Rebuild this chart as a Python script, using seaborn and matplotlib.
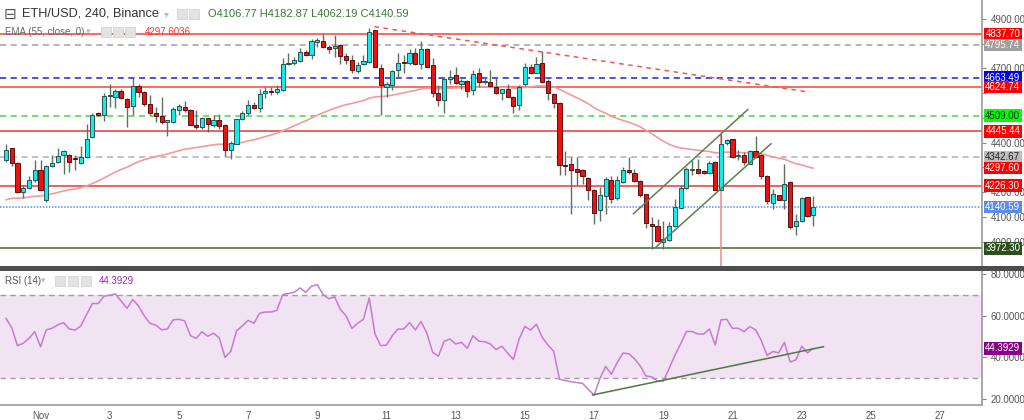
import numpy as np
import pandas as pd
import matplotlib
matplotlib.use("Agg")
import matplotlib.pyplot as plt
import matplotlib.transforms as mtransforms
from matplotlib.patches import Rectangle
import seaborn as sns

# ---------------- data (4h candles, Oct 31 00:00 -> Nov 23 08:00) ----------------
opens = [4329, 4380, 4318, 4200, 4217, 4248, 4291, 4167, 4307, 4322,
         4352, 4352, 4339, 4319, 4342, 4421, 4518, 4511, 4589, 4585,
         4610, 4576, 4548, 4629, 4606, 4558, 4521, 4507, 4484, 4484,
         4534, 4545, 4534, 4471, 4464, 4498, 4473, 4493, 4473, 4369,
         4396, 4495, 4518, 4552, 4542, 4599, 4608, 4603, 4612, 4720,
         4723, 4731, 4768, 4754, 4808, 4811, 4785, 4781, 4795, 4751,
         4734, 4689, 4718, 4727, 4855, 4700, 4626, 4633, 4693, 4727,
         4723, 4764, 4720, 4777, 4714, 4599, 4572, 4656, 4673, 4639,
         4649, 4612, 4680, 4645, 4645, 4626, 4601, 4615, 4585, 4551,
         4637, 4707, 4683, 4723, 4649, 4596, 4562, 4308, 4312, 4292,
         4288, 4258, 4210, 4126, 4183, 4250, 4176, 4241, 4291, 4278,
         4245, 4191, 4069, 4061, 3997, 4007, 4061, 4137, 4218, 4291,
         4295, 4284, 4277, 4322, 4209, 4399, 4413, 4345, 4351, 4315,
         4365, 4349, 4264, 4155, 4187, 4169, 4241, 4061, 4085, 4180,
         4106.77]
closes = [4369, 4319, 4200, 4217, 4248, 4291, 4207, 4304, 4318, 4346,
          4365, 4321, 4334, 4342, 4414, 4511, 4511, 4588, 4592, 4608,
          4579, 4545, 4629, 4604, 4556, 4518, 4508, 4484, 4491, 4538,
          4548, 4531, 4473, 4464, 4498, 4477, 4493, 4469, 4372, 4399,
          4495, 4518, 4552, 4542, 4596, 4608, 4604, 4615, 4720, 4724,
          4734, 4768, 4754, 4811, 4815, 4788, 4777, 4791, 4751, 4734,
          4693, 4716, 4731, 4849, 4707, 4635, 4639, 4689, 4723, 4723,
          4761, 4720, 4777, 4707, 4601, 4572, 4656, 4666, 4642, 4649,
          4610, 4677, 4646, 4649, 4629, 4599, 4615, 4585, 4547, 4626,
          4707, 4683, 4720, 4646, 4601, 4561, 4311, 4304, 4291, 4280,
          4265, 4210, 4115, 4187, 4254, 4173, 4247, 4291, 4281, 4245,
          4187, 4074, 4061, 4001, 4011, 4061, 4139, 4218, 4295, 4295,
          4278, 4278, 4318, 4209, 4396, 4409, 4342, 4351, 4322, 4366,
          4342, 4264, 4164, 4191, 4169, 4234, 4058, 4082, 4177, 4105,
          4140.59]
highs = [4396, 4380, 4322, 4227, 4264, 4329, 4329, 4308, 4349, 4380,
         4372, 4356, 4349, 4388, 4477, 4521, 4525, 4599, 4639, 4619,
         4615, 4579, 4666, 4639, 4610, 4592, 4545, 4585, 4493, 4545,
         4558, 4569, 4538, 4534, 4504, 4498, 4511, 4514, 4477, 4407,
         4497, 4529, 4572, 4565, 4616, 4626, 4626, 4633, 4741, 4764,
         4745, 4781, 4774, 4818, 4822, 4838, 4795, 4835, 4799, 4761,
         4754, 4727, 4754, 4862, 4855, 4720, 4646, 4693, 4761, 4754,
         4777, 4781, 4812, 4781, 4741, 4633, 4666, 4693, 4707, 4656,
         4653, 4693, 4700, 4664, 4693, 4660, 4619, 4637, 4588, 4633,
         4723, 4720, 4745, 4772, 4656, 4599, 4565, 4365, 4342, 4342,
         4295, 4261, 4214, 4221, 4261, 4264, 4264, 4301, 4342, 4295,
         4247, 4193, 4099, 4092, 4085, 4078, 4173, 4227, 4301, 4328,
         4335, 4288, 4326, 4326, 4436, 4416, 4416, 4369, 4362, 4369,
         4426, 4355, 4268, 4214, 4187, 4312, 4243, 4112, 4182, 4182,
         4182.87]
lows = [4322, 4304, 4196, 4176, 4214, 4241, 4204, 4160, 4302, 4318,
        4272, 4281, 4291, 4315, 4339, 4419, 4507, 4488, 4545, 4542,
        4575, 4464, 4511, 4585, 4550, 4511, 4484, 4477, 4426, 4480,
        4511, 4525, 4471, 4457, 4457, 4444, 4464, 4457, 4345, 4333,
        4393, 4491, 4511, 4538, 4524, 4579, 4592, 4596, 4610, 4714,
        4714, 4727, 4750, 4737, 4788, 4781, 4761, 4747, 4720, 4720,
        4683, 4683, 4714, 4723, 4704, 4511, 4583, 4612, 4660, 4680,
        4714, 4714, 4696, 4704, 4583, 4549, 4518, 4637, 4637, 4615,
        4585, 4592, 4626, 4637, 4626, 4596, 4572, 4583, 4518, 4531,
        4629, 4677, 4680, 4642, 4572, 4542, 4268, 4268, 4112, 4227,
        4234, 4166, 4072, 4085, 4112, 4155, 4166, 4236, 4274, 4241,
        4182, 4055, 3970, 3997, 3970, 4004, 4058, 4132, 4214, 4268,
        4274, 4272, 4274, 4207, 4207, 4389, 4339, 4331, 4308, 4312,
        4338, 4254, 4153, 4132, 4169, 4132, 4051, 4028, 4078, 4099,
        4062.19]
rsi = [58.9, 54.4, 45.7, 46.8, 49.2, 52.4, 45.2, 53.3, 54.1, 55.7,
       56.8, 53.7, 53.2, 55.2, 60.8, 66.0, 66.0, 69.5, 70.0, 70.6,
       67.1, 63.7, 67.9, 64.8, 60.0, 56.4, 55.6, 53.3, 53.7, 58.1,
       58.4, 57.6, 50.5, 49.2, 52.4, 50.2, 51.7, 49.4, 40.0, 43.0,
       52.9, 55.2, 57.9, 56.5, 61.3, 61.9, 61.9, 62.7, 70.3, 70.8,
       71.4, 73.5, 71.4, 74.3, 75.1, 70.3, 68.3, 69.2, 63.2, 60.0,
       54.0, 56.5, 58.4, 68.7, 51.3, 45.7, 46.0, 50.5, 53.7, 53.7,
       56.8, 53.3, 57.3, 51.7, 42.5, 40.6, 47.8, 48.9, 46.5, 47.3,
       44.4, 50.5, 47.8, 47.6, 46.5, 43.8, 45.4, 42.2, 39.0, 48.9,
       54.9, 53.2, 56.0, 49.7, 46.0, 42.9, 29.5, 28.9, 28.3, 27.9,
       27.5, 24.6, 21.9, 29.8, 35.7, 31.9, 37.5, 42.1, 41.8, 39.4,
       35.9, 31.1, 30.6, 28.6, 28.6, 34.6, 41.0, 46.5, 52.5, 52.5,
       51.3, 51.3, 53.7, 46.0, 58.1, 58.4, 54.0, 54.1, 52.4, 54.9,
       53.3, 48.1, 41.0, 42.9, 42.2, 47.3, 37.8, 38.9, 45.4, 42.2,
       44.39]
ema_seed = 4169.0
ema_len = 55

date_ticks = list(range(0, 27, 2))
date_labels = ["Nov", "3", "5", "7", "9", "11", "13", "15", "17", "19", "21", "23", "25", "27"]

price_ticks = [4000, 4100, 4200, 4300, 4400, 4500, 4600, 4700, 4800, 4900]
price_tick_labels = ["4000.00", "4100.00", "4200.00", "", "4400.00", "", "", "4700.00", "", "4900.00"]
rsi_ticks = [20, 40, 60, 80]
rsi_tick_labels = ["20.0000", "40.0000", "60.0000", "80.0000"]

# horizontal drawings: price, line color, line style, label bg, label fg
hlines = [
    (4837.70, "#f44336", "-", "#ff0000", "white"),
    (4795.74, "#a0a0a0", (0, (4, 3)), "#9e9e9e", "white"),
    (4663.49, "#1f1fd6", (0, (4, 3)), "#0000ff", "white"),
    (4624.74, "#f44336", "-", "#ff0000", "white"),
    (4509.00, "#45d845", (0, (4, 3)), "#00ff00", "#1a1a1a"),
    (4445.44, "#e53935", "-", "#ff0000", "white"),
    (4342.67, "#b0b0b0", (0, (4, 3)), "#bdbdbd", "#222222"),
    (4226.30, "#e53935", "-", "#ff0000", "white"),
    (4140.59, "#5b8def", (0, (1, 1)), "#5b8def", "white"),
    (3972.30, "#3f6b2b", "-", "#2d4f1b", "white"),
]
ema_label = 4297.60
rsi_label = "44.3929"
# trend lines as (candle number, value)
red_trend = [(64.9, 4869), (140.4, 4604)]
chan_upper = [(109.8, 4112), (129.7, 4535)]
chan_lower = [(113.7, 3977), (133.7, 4396)]
vline_candle = 125
rsi_trend = [(102.7, 21.9), (142.8, 45.2)]

# ---------------- setup ----------------
sns.set_theme(style="white")
plt.rcParams["font.family"] = ["Liberation Sans", "DejaVu Sans"]

W, H = 1024, 420
fig = plt.figure(figsize=(W / 100, H / 100), dpi=100)
fig.patch.set_facecolor("white")


def fx(px):
    return px / W


def fy(py):
    return 1 - py / H


AX_R = 982
MAIN_TOP, MAIN_BOT = 0, 266.5
RSI_TOP, RSI_BOT = 270.5, 405
ax1 = fig.add_axes([0, fy(MAIN_BOT), fx(AX_R), fy(MAIN_TOP) - fy(MAIN_BOT)])
ax2 = fig.add_axes([0, fy(RSI_BOT), fx(AX_R), fy(RSI_TOP) - fy(RSI_BOT)])


def cx(i):
    return (np.asarray(i) - 1) / 6.0 - 1.0


n = len(closes)
t = cx(np.arange(1, n + 1))
o = np.array(opens, float)
c = np.array(closes, float)
hi = np.array(highs, float)
lo = np.array(lows, float)

# EMA(55)
alpha = 2.0 / (ema_len + 1)
ema = np.empty(n)
prev = ema_seed
for k in range(n):
    if k > 0:
        prev = prev + alpha * (c[k] - prev)
    ema[k] = prev

XL = (-40.5 / 34.6, (AX_R - 40.5) / 34.6)
P_LIM = (3899, 4977)
R_LIM = (17.1, 81.9)

# ---------------- main panel ----------------
ax1.set_xlim(*XL)
ax1.set_ylim(*P_LIM)
for p, lc, ls, bg, fg in hlines:
    ax1.axhline(p, color=lc, ls=ls, lw=1.1, zorder=1)

ax1.plot([cx(vline_candle)] * 2, [4440, P_LIM[0]], color="#f08a8a", lw=1.1, zorder=1)

sns.lineplot(x=t, y=ema, ax=ax1, color="#f59a9a", lw=1.2, zorder=2)

up = c >= o
ax1.vlines(t, lo, hi, color="#5f6f60", lw=1.0, zorder=3)
bw = 0.72 / 6
body_b = np.minimum(o, c)
body_h = np.maximum(np.abs(c - o), 3)
ax1.bar(t[up], body_h[up], bottom=body_b[up], width=bw, color="#14ecec",
        edgecolor="#2f4f4f", linewidth=0.7, zorder=4)
ax1.bar(t[~up], body_h[~up], bottom=body_b[~up], width=bw, color="#ee1111",
        edgecolor="#5a1010", linewidth=0.7, zorder=4)

(a1, b1), (a2, b2) = red_trend
ax1.plot(cx([a1, a2]), [b1, b2], color="#f25454", lw=1.1, ls=(0, (3, 3)), zorder=5)
for seg in (chan_upper, chan_lower):
    (a1, b1), (a2, b2) = seg
    ax1.plot(cx([a1, a2]), [b1, b2], color="#5f7f50", lw=1.1, zorder=5)

ax1.set_xlabel("")
ax1.set_ylabel("")
ax1.set_xticks([])
ax1.yaxis.tick_right()
ax1.set_yticks(price_ticks)
ax1.set_yticklabels(price_tick_labels)
ax1.tick_params(axis="y", direction="out", length=3, width=0.8, colors="#888888",
                labelcolor="#555555", labelsize=7, pad=3)
for s in ("top", "left", "bottom"):
    ax1.spines[s].set_visible(False)
ax1.spines["right"].set_color("#9a9a9a")
ax1.spines["right"].set_linewidth(1.2)


def value_box(ax, lim, top_px, bot_px, val, txt, bg, fg):
    units_per_px = (lim[1] - lim[0]) / (bot_px - top_px)
    h = 12.5 * units_per_px
    tr = mtransforms.blended_transform_factory(ax.transAxes, ax.transData)
    x0 = 1.0 + 1.5 / AX_R
    w = 38.5 / AX_R
    ax.add_patch(Rectangle((x0, val - h / 2), w, h, transform=tr, facecolor=bg,
                           edgecolor="none", clip_on=False, zorder=9))
    ax.text(x0 + w / 2, val, txt, transform=tr, ha="center", va="center", fontsize=7,
            color=fg, clip_on=False, zorder=10)


for p, lc, ls, bg, fg in hlines:
    value_box(ax1, P_LIM, MAIN_TOP, MAIN_BOT, p, f"{p:.2f}", bg, fg)
value_box(ax1, P_LIM, MAIN_TOP, MAIN_BOT, ema_label, f"{ema_label:.2f}", "#ff0000", "white")

# ---------------- RSI panel ----------------
ax2.set_xlim(*XL)
ax2.set_ylim(*R_LIM)
ax2.axhspan(30, 70, color="#f1e3f3", zorder=0, lw=0)
ax2.axhline(70, color="#a89aa8", ls=(0, (4, 3)), lw=1.0, zorder=1)
ax2.axhline(30, color="#a89aa8", ls=(0, (4, 3)), lw=1.0, zorder=1)
sns.lineplot(x=t, y=np.array(rsi), ax=ax2, color="#c47ccc", lw=1.1, zorder=3)
(a1, b1), (a2, b2) = rsi_trend
ax2.plot(cx([a1, a2]), [b1, b2], color="#4f7a3c", lw=1.1, zorder=4)

ax2.set_xlabel("")
ax2.set_ylabel("")
ax2.yaxis.tick_right()
ax2.set_yticks(rsi_ticks)
ax2.set_yticklabels(rsi_tick_labels)
ax2.tick_params(axis="y", direction="out", length=3, width=0.8, colors="#888888",
                labelcolor="#555555", labelsize=7, pad=3)
ax2.set_xticks(date_ticks)
ax2.set_xticklabels(date_labels)
ax2.tick_params(axis="x", direction="out", length=3, width=0.8, colors="#888888",
                labelcolor="#555555", labelsize=7, pad=1)
for s in ("top", "left"):
    ax2.spines[s].set_visible(False)
for s in ("right", "bottom"):
    ax2.spines[s].set_color("#9a9a9a")
    ax2.spines[s].set_linewidth(1.2)

value_box(ax2, R_LIM, RSI_TOP, RSI_BOT, rsi[-1], rsi_label, "#8b008b", "white")

# separator bar
fig.add_artist(Rectangle((0, fy(RSI_TOP)), 1, fy(MAIN_BOT) - fy(RSI_TOP), transform=fig.transFigure,
                         facecolor="#4d4d4d", edgecolor="none", zorder=20))


# ---------------- header texts & icons ----------------
def icon(x, y, w=10, h=10):
    fig.add_artist(Rectangle((fx(x), fy(y + h)), fx(w), fy(0) - fy(h), transform=fig.transFigure,
                             facecolor="#e2e2e2", edgecolor="#d0d0d0", lw=0.5, zorder=30))


fig.text(fx(4), fy(14), "⊟", fontsize=11, color="#555555", va="center", ha="left",
         family=["DejaVu Sans"], zorder=30)
fig.text(fx(22), fy(14), "ETH/USD, 240, Binance", fontsize=9.2, color="#333333",
         va="center", ha="left", zorder=30)
fig.text(fx(164), fy(14), "▾", fontsize=7, color="#bbbbbb", va="center", ha="left",
         family=["DejaVu Sans"], zorder=30)
icon(177, 9)
icon(189, 9)
fig.text(fx(208), fy(14), "O4106.77 H4182.87 L4062.19 C4140.59", fontsize=8,
         color="#3a7a3a", va="center", ha="left", zorder=30)

fig.text(fx(5), fy(32), "EMA (55, close, 0)", fontsize=7, color="#666666",
         va="center", ha="left", zorder=30)
fig.text(fx(86), fy(32), "▾", fontsize=6.5, color="#bbbbbb", va="center", ha="left",
         family=["DejaVu Sans"], zorder=30)
icon(101, 27)
icon(113, 27)
icon(125, 27)
fig.text(fx(145), fy(32), "4297.6036", fontsize=7, color="#ff3030",
         va="center", ha="left", zorder=30)

fig.text(fx(5), fy(281), "RSI (14)", fontsize=7, color="#555555",
         va="center", ha="left", zorder=30)
fig.text(fx(41), fy(281), "▾", fontsize=6.5, color="#bbbbbb", va="center", ha="left",
         family=["DejaVu Sans"], zorder=30)
icon(55, 276)
icon(68, 276)
icon(81, 276)
fig.text(fx(99), fy(281), "44.3929", fontsize=7, color="#9c27b0",
         va="center", ha="left", zorder=30)

fig.savefig("out.png", dpi=100, facecolor="white")
